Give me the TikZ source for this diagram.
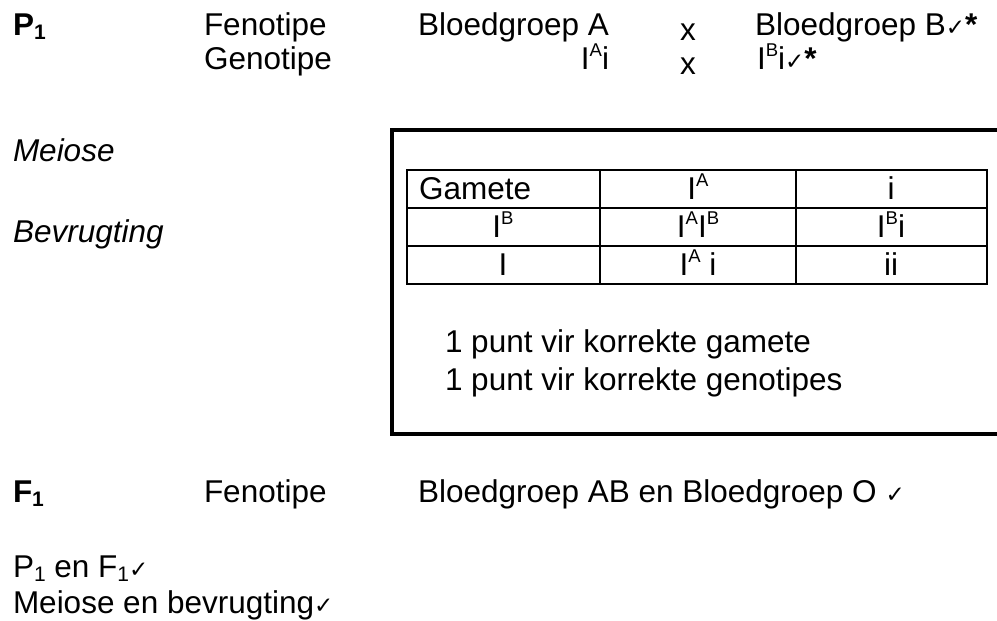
\documentclass[tikz,border=0pt]{standalone}
\usepackage{fontspec}
\setmainfont{Liberation Sans}
\newfontfamily\symfont{DejaVu Sans}
\newcommand{\ck}{{\symfont\fontsize{23}{23}\selectfont ✓}}
\newcommand{\upsc}[1]{\smash{\raisebox{13pt}{\fontsize{18.5}{18.5}\selectfont #1}}}
\newcommand{\dnsc}[1]{\smash{\raisebox{-4.3pt}{\fontsize{21}{21}\selectfont #1}}}
\begin{document}
\begin{tikzpicture}[x=1pt,y=-1pt,
  txt/.style={inner sep=0pt,outer sep=0pt,anchor=base west,font=\fontsize{31.5}{36}\selectfont},
  ctxt/.style={txt,anchor=base},
  rtxt/.style={txt,anchor=base east},
  frame/.style={line width=4pt,line join=miter},
  grid/.style={line width=2pt}]
\useasboundingbox (0,0) rectangle (997,621);
% header rows
\node[txt] (p1) at (13,35) {\textbf{P\dnsc{1}}};
\node[txt] (fen1) at (204,35) {Fenotipe};
\node[txt] (bga) at (418,35) {Bloedgroep A};
\node[txt] (x1) at (680,40) {x};
\node[txt] (bgb) at (755,35) {Bloedgroep B\ck\textbf{*}};
\node[txt] (gen) at (204,69) {Genotipe};
\node[rtxt] (iai) at (609,69) {I\upsc{A}i};
\node[txt] (x2) at (680,74) {x};
\node[txt] (ibi) at (757,69) {I\upsc{B}i\ck\textbf{*}};
% side labels
\node[txt] (mei) at (13,161) {\itshape Meiose};
\node[txt] (bev) at (13,242) {\itshape Bevrugting};
% frame
\draw[frame] (997,130) -- (392,130) -- (392,434) -- (997,434);
% table
\draw[grid] (407,170) rectangle (987,284);
\draw[grid] (407,208) -- (987,208);
\draw[grid] (407,246) -- (987,246);
\draw[grid] (600,170) -- (600,284);
\draw[grid] (796,170) -- (796,284);
\node[txt] (c11) at (419,199) {Gamete};
\node[ctxt] (c12) at (698,199) {I\upsc{A}};
\node[ctxt] (c13) at (891,199) {i};
\node[ctxt] (c21) at (503,237) {I\upsc{B}};
\node[ctxt] (c22) at (698,237) {I\upsc{A}I\upsc{B}};
\node[ctxt] (c23) at (891,237) {I\upsc{B}i};
\node[ctxt] (c31) at (503,275) {I};
\node[ctxt] (c32) at (698,275) {I\upsc{A} i};
\node[ctxt] (c33) at (891,275) {ii};
\node[txt] (pt1) at (445,352) {1 punt vir korrekte gamete};
\node[txt] (pt2) at (445,390) {1 punt vir korrekte genotipes};
% F1 row
\node[txt] (f1) at (13,502) {\textbf{F\dnsc{1}}};
\node[txt] (fen2) at (204,502) {Fenotipe};
\node[txt] (bgab) at (418,502) {Bloedgroep AB en Bloedgroep O \ck};
% footer
\node[txt] (pf) at (13,577) {P\dnsc{1} en F\dnsc{1}\ck};
\node[txt] (meb) at (13,613) {Meiose en bevrugting\ck};
\end{tikzpicture}
\end{document}
